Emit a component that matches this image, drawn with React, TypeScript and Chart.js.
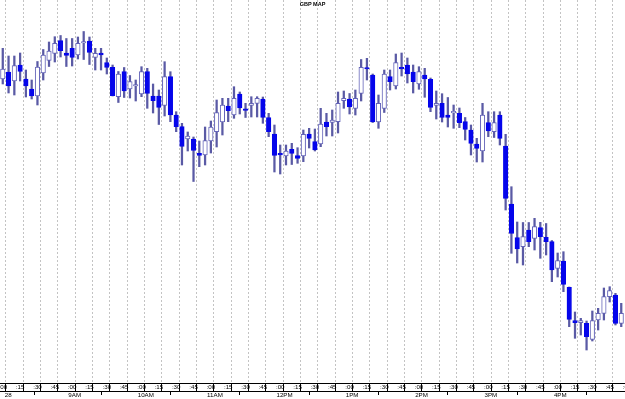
import React, { useEffect, useRef } from 'react';
import { Chart, registerables } from 'chart.js';

Chart.register(...registerables);

// 5-minute candles, 8:05 → 17:00 (price units)
const OPEN = [
  321, 328, 319, 335, 321, 311, 304, 327, 339.5, 346.7,
  359.3, 347, 351.7, 345, 357, 359, 342.5, 347, 337.5, 332.7,
  303.3, 328.3, 311, 314, 306, 328.3, 304, 304, 294.5, 323.3,
  285, 273.3, 261, 261, 246.7, 245, 259, 268.3, 278, 294,
  285, 306, 290.2, 294.5, 296.7, 301, 282.5, 266, 246.7, 244,
  250.7, 244.3, 244, 266, 258.3, 256, 278, 277.7, 278.3, 299.3,
  301, 291.7, 306.7, 332.3, 325, 278, 291.7, 323.3, 314, 332.7,
  335, 328, 316, 325, 320.7, 294.7, 296.7, 285, 287.2, 286.7,
  278.3, 270, 256, 249, 277.3, 268.3, 285, 254, 196, 162.5,
  153.3, 170, 161.5, 172.5, 162.7, 158.3, 131.7, 139, 112.7, 79.3,
  77.3, 76.7, 60.7, 80, 86.7, 103.3, 105, 76.7,
];
const HIGH = [
  351.7, 344, 344, 347, 330, 320, 338.5, 350.5, 358, 363.3,
  364.5, 361.5, 361.5, 363, 368.5, 363, 351.7, 351.7, 342, 335,
  328.5, 332.5, 324.5, 320, 333.3, 331.7, 316, 310, 338.3, 328.3,
  288.3, 276.7, 268, 263, 259, 273, 279, 300, 301.7, 301.7,
  313.3, 308, 296.7, 303.3, 303.3, 303, 286.7, 275, 255, 255,
  256.7, 252.3, 270, 271.7, 271, 291.7, 286.7, 290, 308, 309,
  306.5, 310, 340.5, 341.7, 326, 305, 330, 330, 346, 347,
  342, 335, 333.3, 331.7, 322, 309, 306.3, 302.5, 295, 292,
  282.5, 275, 261.7, 296.7, 288.3, 288.3, 288.3, 265.7, 213.3, 178,
  177.5, 177.5, 181.7, 177.7, 176.5, 159.5, 147, 148.3, 113, 88,
  81.7, 79, 89, 91.7, 112, 113.3, 106.7, 96.7,
];
const LOW = [
  316, 307, 305, 319, 303, 301, 295, 320, 333.5, 338,
  343, 333.5, 334, 341, 340.5, 335.5, 330, 330, 326, 304,
  297.5, 302.5, 302, 299, 303.3, 291.7, 287, 275.5, 284, 278.3,
  268.3, 235, 249, 218.5, 233.3, 235, 247, 253, 265, 278.3,
  281.7, 286, 282.5, 283, 283, 276.7, 263.3, 228, 226, 235,
  235.5, 236.7, 238.3, 252, 249, 253.3, 264, 264, 267, 291.7,
  286, 285, 299, 320, 277.5, 271.7, 287.5, 310, 311, 324,
  317, 307, 310.7, 302.7, 288.3, 281, 278, 273, 271.7, 272.3,
  260, 245, 238, 238, 263.3, 262.5, 255, 190, 146.7, 137,
  135, 153.3, 150, 141.7, 145, 118.3, 123, 108.3, 73.3, 61.7,
  65, 50, 59, 70, 80, 98, 75, 73.3,
];
const CLOSE = [
  331, 314, 334.5, 328.5, 314, 304, 333, 345, 349, 356.7,
  349.3, 344.5, 342.5, 356.7, 358.5, 347.5, 346.7, 345, 332.5, 304.3,
  326, 309, 318.5, 315.5, 328.3, 306.5, 299.3, 292.7, 323.3, 285,
  273.3, 253.5, 264, 249.5, 244.5, 259.3, 273, 287.5, 295, 289.3,
  301.7, 292, 289.7, 296.7, 301.7, 282.5, 268.3, 244.7, 245, 249,
  246.7, 241.7, 265.7, 261.7, 250, 276, 273.3, 280, 296.7, 301.7,
  293, 301.7, 332.7, 331, 278, 296.7, 326, 318.3, 337.5, 331,
  326, 318.3, 328.3, 321, 292.7, 296.7, 282.5, 282.5, 287.7, 277.3,
  270.5, 256.7, 251.7, 285, 269, 277.3, 261.7, 201.7, 166.5, 151,
  163.3, 158.3, 173.3, 163.3, 158.3, 130, 139.5, 115.7, 80.7, 77.3,
  79.3, 63.3, 79.5, 86.7, 103.3, 109.3, 76.7, 86.7,
];

const FIRST_SLOT = 1; // first candle = 8:05 (slots of 5 minutes after 8:00)
const MINUTE_LABELS = [':00', ':15', ':30', ':45'];
const HOUR_TICKS = [1, 12, 24, 36, 48, 60, 72, 84, 96];
const HOUR_LABELS = ['28', '9AM', '10AM', '11AM', '12PM', '1PM', '2PM', '3PM', '4PM'];
const TITLE = 'GBP MAP';

const BLUE = 'rgb(5,5,235)';
const WHITE_EDGE = 'rgb(100,100,185)';
const WICK = 'rgb(90,90,165)';
const GRID = 'rgb(195,195,195)';
const FONT = '"Liberation Sans", Arial, sans-serif';

const X_MIN = 0.52;
const X_MAX = 108.65;

export default function App() {
  const ref = useRef<HTMLCanvasElement | null>(null);

  useEffect(() => {
    const canvas = ref.current;
    if (!canvas) return;
    const slots = CLOSE.map((_, i) => FIRST_SLOT + i);
    const up = CLOSE.map((c, i) => c >= OPEN[i]);
    const bodyData = slots.map((x, i) => ({
      x,
      y: [Math.min(OPEN[i], CLOSE[i]), Math.max(OPEN[i], CLOSE[i])],
    }));
    const wickData = slots.map((x, i) => ({ x, y: [LOW[i], HIGH[i]] }));

    const titlePlugin = {
      id: 'chartTitleText',
      afterDraw(chart: any) {
        const ctx = chart.ctx;
        ctx.save();
        ctx.font = `bold 5.5px ${FONT}`;
        ctx.fillStyle = '#000';
        ctx.textAlign = 'center';
        ctx.textBaseline = 'top';
        ctx.fillText(TITLE, (chart.chartArea.left + chart.chartArea.right) / 2, 2);
        ctx.restore();
      },
    };

    const tickFont = { family: FONT, size: 6.2 };

    const chart = new Chart(canvas, {
      type: 'bar',
      data: {
        datasets: [
          {
            label: 'body',
            data: bodyData as any,
            xAxisID: 'x',
            yAxisID: 'y',
            backgroundColor: up.map((u) => (u ? '#ffffff' : BLUE)),
            borderColor: up.map((u) => (u ? WHITE_EDGE : BLUE)),
            borderWidth: 1,
            borderSkipped: false,
            barThickness: 4.5,
            minBarLength: 1.5,
          },
          {
            label: 'wick',
            data: wickData as any,
            xAxisID: 'x',
            yAxisID: 'y',
            backgroundColor: WICK,
            borderWidth: 0,
            barThickness: 1.6,
          },
        ],
      },
      options: {
        animation: false,
        responsive: false,
        maintainAspectRatio: false,
        layout: { padding: 0 },
        datasets: { bar: { grouped: false } } as any,
        plugins: {
          legend: { display: false },
          tooltip: { enabled: false },
          title: { display: false },
        },
        scales: {
          x: {
            type: 'linear',
            position: 'bottom',
            weight: 0,
            min: X_MIN,
            max: X_MAX,
            bounds: 'data',
            offset: false,
            afterBuildTicks: (s: any) => {
              const t = [];
              for (let v = 0; v <= 108; v += 3) t.push({ value: v });
              s.ticks = t;
            },
            afterFit: (s: any) => {
              s.height = 8;
              s.paddingLeft = 0;
              s.paddingRight = 0;
            },
            ticks: {
              autoSkip: false,
              maxRotation: 0,
              minRotation: 0,
              align: 'start',
              labelOffset: 1.5,
              padding: -7.6,
              color: '#000',
              font: tickFont,
              callback: (v: any) => MINUTE_LABELS[Math.round(Number(v) / 3) % 4],
            },
            grid: {
              display: true,
              drawOnChartArea: true,
              drawTicks: true,
              color: GRID,
              lineWidth: 1,
              tickLength: 8,
              tickColor: '#000',
              tickWidth: 1,
            },
            border: { display: true, color: '#000', width: 1, dash: [2, 2] },
          } as any,
          x2: {
            type: 'linear',
            position: 'bottom',
            weight: 1,
            min: X_MIN,
            max: X_MAX,
            bounds: 'data',
            offset: false,
            afterBuildTicks: (s: any) => {
              s.ticks = HOUR_TICKS.map((v) => ({ value: v }));
            },
            afterFit: (s: any) => {
              s.height = 8;
              s.paddingLeft = 0;
              s.paddingRight = 0;
            },
            ticks: {
              autoSkip: false,
              maxRotation: 0,
              minRotation: 0,
              align: 'start',
              labelOffset: 2,
              padding: -3.3,
              color: '#000',
              font: tickFont,
              callback: (_v: any, i: number) => HOUR_LABELS[i],
            },
            grid: {
              display: true,
              drawOnChartArea: false,
              drawTicks: true,
              tickLength: 4,
              tickColor: '#000',
              tickWidth: 1,
            },
            border: { display: true, color: '#000', width: 1 },
          } as any,
          y: {
            display: false,
            min: 17,
            max: 400,
            grid: { display: false },
          },
        },
      },
      plugins: [titlePlugin],
    });
    return () => chart.destroy();
  }, []);

  return (
    <div style={{ position: 'fixed', left: 0, top: 0, width: 625, height: 399, background: '#fff' }}>
      <canvas ref={ref} width={625} height={399} style={{ display: 'block', width: 625, height: 399 }} />
    </div>
  );
}
